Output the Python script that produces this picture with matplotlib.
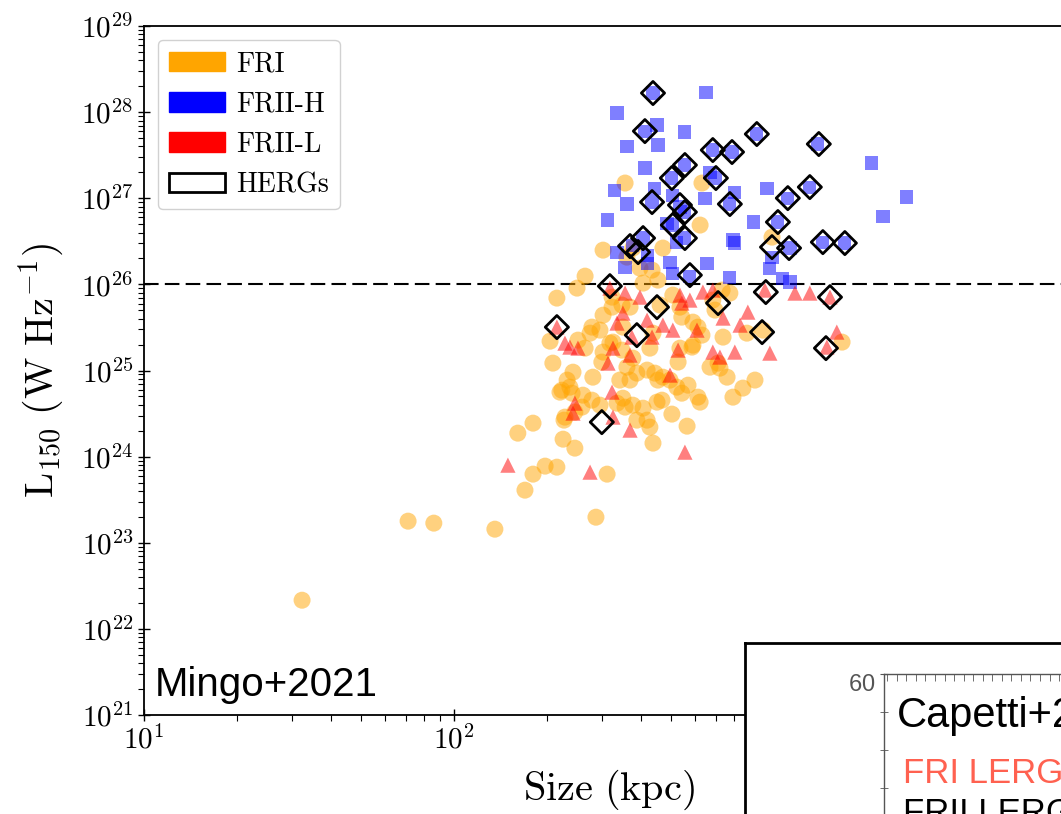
import numpy as np
import matplotlib
matplotlib.use("Agg")
import matplotlib.pyplot as plt
from matplotlib.patches import Patch

plt.rcParams['font.family'] = 'serif'
plt.rcParams['font.serif'] = ['cmr10']
plt.rcParams['mathtext.fontset'] = 'cm'
plt.rcParams['axes.unicode_minus'] = False
plt.rcParams['axes.formatter.use_mathtext'] = True

# log10(size / kpc) and log10(L150 / W Hz^-1)
fri_logsize = [1.510, 1.852, 1.935, 2.132, 2.458, 2.229, 2.255, 2.294, 2.332, 2.206,
               2.255, 2.352, 2.390, 2.494, 2.642, 2.752, 2.703, 2.355, 2.342, 2.374,
               2.319, 2.310, 2.332, 2.397, 2.423, 2.445, 2.481, 2.471, 2.503, 2.400,
               2.423, 2.477, 2.384, 2.348, 2.381, 2.416, 2.448, 2.445, 2.471, 2.535,
               2.568, 2.545, 2.552, 2.577, 2.610, 2.623, 2.648, 2.658, 2.674, 2.697,
               2.719, 2.735, 2.655, 2.590, 2.623, 2.632, 2.358, 2.390, 2.413, 2.365,
               2.542, 2.558, 2.577, 2.632, 2.642, 2.439, 2.481, 2.513, 2.568, 2.542,
               2.510, 2.545, 2.590, 2.794, 2.900, 2.787, 2.755, 2.826, 2.858, 2.881,
               2.932, 2.971, 2.868, 2.945, 2.997, 3.252, 2.771, 2.800, 2.771, 2.835,
               2.723, 2.671, 2.526, 2.552, 2.800, 2.794, 2.481, 2.577, 2.674, 2.639,
               2.610, 2.658, 3.026, 2.558, 2.600, 2.665, 2.706, 2.729, 2.735, 2.787,
               2.768, 2.729, 2.852, 2.842, 2.865, 2.890, 2.510]
fri_logL = [22.333, 23.251, 23.228, 23.158, 23.297, 23.611, 23.797, 23.890, 23.878, 24.273,
            24.389, 24.203, 24.099, 23.797, 24.157, 24.354, 24.494, 24.424, 24.749, 24.807,
            25.086, 25.341, 25.841, 25.957, 26.096, 25.504, 25.643, 25.469, 25.318, 25.353,
            25.260, 25.098, 24.981, 24.772, 24.737, 24.714, 24.923, 24.656, 24.598, 24.889,
            24.889, 24.679, 24.575, 24.598, 24.563, 25.005, 24.970, 24.889, 24.923, 24.889,
            24.807, 24.737, 24.633, 24.424, 24.424, 24.343, 24.459, 24.517, 24.575, 24.889,
            25.237, 25.039, 25.144, 25.260, 25.434, 25.434, 25.214, 25.330, 25.736, 25.760,
            25.736, 25.504, 24.970, 24.633, 24.691, 24.691, 24.830, 25.039, 25.028, 24.923,
            24.796, 24.889, 25.388, 25.434, 25.469, 25.330, 25.295, 25.411, 25.562, 25.818,
            25.098, 24.656, 24.621, 27.177, 27.177, 26.689, 26.398, 26.422, 26.422, 26.166,
            26.015, 26.050, 26.549, 26.317, 26.189, 25.760, 25.876, 25.736, 25.620, 25.504,
            25.272, 25.260, 25.086, 25.702, 25.934, 25.899, 25.852]

friih_logsize = [2.642, 2.813, 2.526, 2.655, 2.616, 2.745, 2.558, 2.658, 2.977, 3.174,
                 2.835, 2.897, 2.616, 2.745, 2.703, 2.842, 2.826, 3.348, 3.384, 3.461,
                 2.519, 2.558, 2.648, 2.639, 2.706, 2.729, 2.810, 2.890, 2.906, 3.010,
                 3.077, 3.148, 3.045, 2.965, 2.494, 2.687, 2.706, 2.745, 2.719, 2.900,
                 2.906, 3.084, 3.190, 3.261, 2.610, 2.526, 2.623, 2.552, 2.697, 2.816,
                 2.890, 3.019, 3.026, 3.061, 2.761, 2.706, 3.084, 2.623, 2.577, 2.745]
friih_logL = [28.222, 28.233, 27.990, 27.850, 27.780, 27.769, 27.606, 27.618, 27.746, 27.630,
              27.560, 27.537, 27.351, 27.386, 27.235, 27.235, 27.304, 27.409, 26.793, 27.014,
              27.095, 26.933, 27.118, 26.956, 27.037, 26.898, 27.002, 26.933, 27.072, 27.118,
              27.002, 27.130, 26.724, 26.724, 26.747, 26.712, 26.689, 26.538, 26.491, 26.515,
              26.480, 26.422, 26.491, 26.480, 26.538, 26.375, 26.340, 26.201, 26.259, 26.247,
              26.085, 26.189, 26.317, 26.073, 26.096, 26.131, 26.027, 26.247, 26.456, 26.840]

friil_logsize = [2.174, 2.439, 2.568, 2.745, 2.513, 2.384, 2.390, 2.510, 2.697, 2.497,
                 2.568, 2.513, 2.574, 2.639, 2.623, 2.674, 2.723, 2.706, 2.784, 2.735,
                 2.729, 2.600, 2.545, 2.526, 2.552, 2.332, 2.358, 2.400, 2.374, 2.835,
                 2.858, 2.906, 3.019, 2.923, 2.948, 2.868, 2.803, 2.761, 2.835, 3.100,
                 3.148, 3.003, 3.213, 3.235, 3.203, 2.503]
friil_logL = [23.901, 23.820, 24.308, 24.052, 24.459, 24.505, 24.621, 24.749, 24.947, 25.086,
              25.179, 25.260, 25.388, 25.388, 25.585, 25.527, 25.237, 25.469, 25.469, 25.783,
              25.876, 25.852, 25.667, 25.551, 25.899, 25.504, 25.318, 25.260, 25.272, 25.214,
              25.156, 25.214, 25.202, 25.527, 25.678, 25.609, 25.911, 25.818, 25.934, 25.899,
              25.899, 25.934, 25.852, 25.446, 25.272, 25.957]

herg_logsize = [2.642, 2.616, 2.977, 3.177, 2.835, 2.897, 2.745, 2.703, 2.845, 3.148,
                3.077, 2.639, 2.890, 2.729, 2.745, 3.045, 2.706, 2.745, 2.610, 2.568,
                2.594, 3.026, 3.081, 3.190, 3.261, 2.761, 2.503, 2.655, 2.852, 3.006,
                3.213, 2.332, 2.590, 2.994, 3.200, 2.477]
herg_logL = [28.222, 27.780, 27.746, 27.630, 27.560, 27.537, 27.386, 27.235, 27.235, 27.130,
             27.002, 26.956, 26.933, 26.921, 26.840, 26.724, 26.689, 26.538, 26.538, 26.445,
             26.375, 26.433, 26.422, 26.491, 26.480, 26.108, 25.980, 25.736, 25.783, 25.911,
             25.852, 25.504, 25.411, 25.446, 25.260, 24.401]

L_cut = 1e26

fig = plt.figure(figsize=(10.61, 8.14), dpi=100)
ax = fig.add_axes([0.1357, 0.1216, 0.8765, 0.8464])

ax.scatter(10**np.array(fri_logsize), 10**np.array(fri_logL), s=150, marker='o',
           color='orange', alpha=0.5, edgecolors='none', zorder=2)
ax.scatter(10**np.array(friih_logsize), 10**np.array(friih_logL), s=90, marker='s',
           color='blue', alpha=0.5, edgecolors='none', zorder=3)
ax.scatter(10**np.array(friil_logsize), 10**np.array(friil_logL), s=120, marker='^',
           color='red', alpha=0.5, edgecolors='none', zorder=4)
ax.scatter(10**np.array(herg_logsize), 10**np.array(herg_logL), s=140, marker='D',
           facecolors='none', edgecolors='black', linewidths=2, zorder=5)
ax.axhline(L_cut, color='black', ls=(0, (7, 3)), lw=1.5, zorder=1)

ax.set_xscale('log')
ax.set_yscale('log')
ax.set_xlim(10, 1e4)
ax.set_ylim(1e21, 1e29)
ax.set_yticks([10.0**k for k in range(21, 30)])
ax.tick_params(which='major', direction='inout', length=8, width=1, labelsize=21)
ax.tick_params(which='minor', direction='out', length=4, width=0.8)
for sp in ax.spines.values():
    sp.set_linewidth(1.3)

ax.set_xlabel(r'$\mathrm{Size\ (kpc)}$', fontsize=29, labelpad=9)
ax.set_ylabel(r'$\mathrm{L_{150}\ (W\ Hz^{-1})}$', fontsize=29, labelpad=10)

handles = [Patch(facecolor='orange', edgecolor='orange', label='FRI'),
           Patch(facecolor='blue', edgecolor='blue', label='FRII-H'),
           Patch(facecolor='red', edgecolor='red', label='FRII-L'),
           Patch(facecolor='white', edgecolor='black', lw=2, label='HERGs')]
leg = ax.legend(handles=handles, loc='upper left', fontsize=20, handlelength=2.0,
                handletextpad=0.4, framealpha=0.9, edgecolor='#cccccc', labelspacing=0.5)

ax.text(0.012, 0.028, 'Mingo+2021', transform=ax.transAxes, family='Liberation Sans',
        fontsize=29, va='baseline', ha='left')

# second panel, only its corner shows
box = fig.add_axes([0.7022, -0.2, 0.45, 0.4101], zorder=10)
box.set_xticks([])
box.set_yticks([])
for sp in box.spines.values():
    sp.set_linewidth(2)

inner = fig.add_axes([0.8332, -0.2, 0.3, 0.372], zorder=11)
inner.set_ylim(20, 60)
inner.set_xlim(0, 100)
inner.set_yticks([60])
inner.set_yticks([55, 50, 45, 40, 35, 30, 25], minor=True)
inner.set_xticks([])
inner.set_xticks(np.arange(1, 100, 3.0), minor=True)
inner.tick_params(axis='y', which='major', direction='inout', length=6, colors='#555555',
                  labelsize=17, labelfontfamily='Liberation Sans')
inner.tick_params(axis='y', which='minor', direction='inout', length=6, color='#555555')
inner.tick_params(axis='x', which='minor', direction='in', length=5, color='#555555', top=True, bottom=False)
for lab in inner.get_yticklabels():
    lab.set_va('top')
for sp in inner.spines.values():
    sp.set_color('#555555')
    sp.set_linewidth(1)

fig.text(0.8454, 0.1069, 'Capetti+2017', family='Liberation Sans', fontsize=30,
         va='baseline', zorder=12)
fig.text(0.851, 0.0381, 'FRI LERG', family='Liberation Sans', fontsize=25,
         color='#ff6150', va='baseline', zorder=12)
fig.text(0.851, -0.011, 'FRII LERG', family='Liberation Sans', fontsize=25,
         color='black', va='baseline', zorder=12)

fig.savefig('out.png', dpi=100)
